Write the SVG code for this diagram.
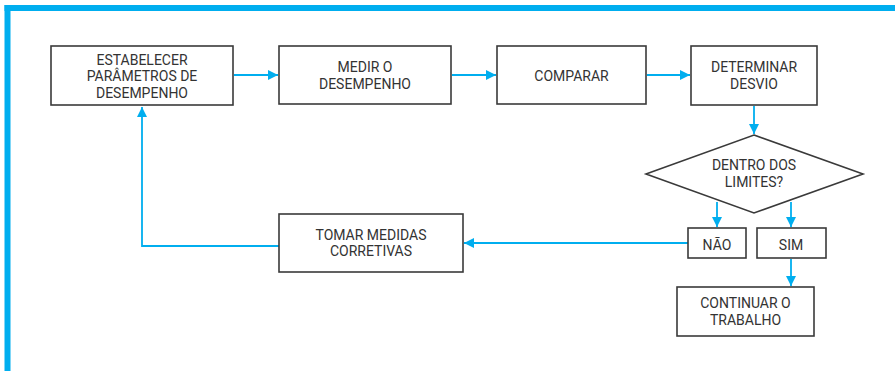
<svg xmlns="http://www.w3.org/2000/svg" width="895" height="371" viewBox="0 0 895 371">
<defs>
<marker id="ah" viewBox="0 0 10 10" refX="10" refY="5" markerWidth="10" markerHeight="10" markerUnits="userSpaceOnUse" orient="auto">
<path d="M0,0 L10,5 L0,10 Z" fill="#00AEEF"/>
</marker>
<style>
.box{fill:#fff;stroke:#3a3a3a;stroke-width:1.6}
.t{font-family:Roboto,"Liberation Sans",Arial,sans-serif;font-size:14px;fill:#333;text-anchor:middle}
.c{fill:none;stroke:#00AEEF;stroke-width:1.8}
</style>
</defs>
<rect width="895" height="371" fill="#fff"/>
<g id="frame">
<rect x="4.5" y="5" width="890.5" height="6" fill="#00AEEF"/>
<rect x="4.5" y="5" width="6" height="366" fill="#00AEEF"/>
</g>
<g id="connectors">
<line class="c" x1="234" y1="75" x2="278" y2="75" marker-end="url(#ah)"/>
<line class="c" x1="452" y1="75" x2="496" y2="75" marker-end="url(#ah)"/>
<line class="c" x1="647" y1="75" x2="690" y2="75" marker-end="url(#ah)"/>
<line class="c" x1="754" y1="106" x2="754" y2="134" marker-end="url(#ah)"/>
<line class="c" x1="717" y1="202" x2="717" y2="227" marker-end="url(#ah)"/>
<line class="c" x1="791" y1="202" x2="791" y2="227" marker-end="url(#ah)"/>
<line class="c" x1="791" y1="259" x2="791" y2="286" marker-end="url(#ah)"/>
<line class="c" x1="688" y1="243" x2="464" y2="243" marker-end="url(#ah)"/>
<polyline class="c" points="279,246 142,246 142,107" marker-end="url(#ah)"/>
</g>
<g id="n1">
<rect class="box" x="51" y="46" width="182" height="59"/>
<text class="t" x="142" y="65">ESTABELECER</text>
<text class="t" x="142" y="81">PARÂMETROS DE</text>
<text class="t" x="142" y="97.5">DESEMPENHO</text>
</g>
<g id="n2">
<rect class="box" x="279" y="46" width="172" height="58"/>
<text class="t" x="365" y="72">MEDIR O</text>
<text class="t" x="365" y="89">DESEMPENHO</text>
</g>
<g id="n3">
<rect class="box" x="497" y="46" width="149" height="58"/>
<text class="t" x="571.5" y="81">COMPARAR</text>
</g>
<g id="n4">
<rect class="box" x="691" y="46" width="126" height="59"/>
<text class="t" x="754" y="72">DETERMINAR</text>
<text class="t" x="754" y="89">DESVIO</text>
</g>
<g id="n5">
<polygon class="box" points="754,135 863,174 754,213 646,174"/>
<text class="t" x="754" y="170">DENTRO DOS</text>
<text class="t" x="754" y="187">LIMITES?</text>
</g>
<g id="n6">
<rect class="box" x="688" y="228" width="58" height="30"/>
<text class="t" x="717" y="250">NÃO</text>
</g>
<g id="n7">
<rect class="box" x="757" y="228" width="69" height="30"/>
<text class="t" x="791" y="250">SIM</text>
</g>
<g id="n8">
<rect class="box" x="677" y="287" width="137" height="49"/>
<text class="t" x="745.5" y="308">CONTINUAR O</text>
<text class="t" x="745.5" y="325">TRABALHO</text>
</g>
<g id="n9">
<rect class="box" x="279" y="214" width="184" height="58"/>
<text class="t" x="371" y="240">TOMAR MEDIDAS</text>
<text class="t" x="371" y="256">CORRETIVAS</text>
</g>
</svg>
